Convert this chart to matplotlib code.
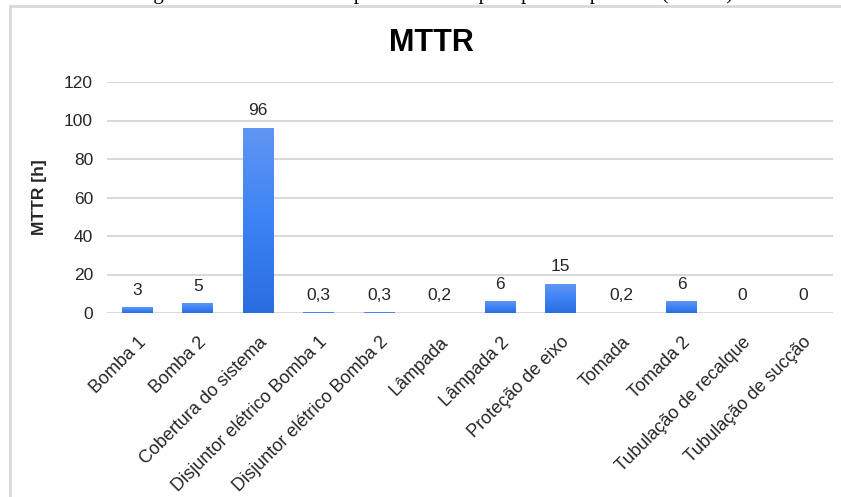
"""
MTTR bar chart per component
"""

import numpy as np
import matplotlib.pyplot as plt
from matplotlib.patches import Rectangle
from matplotlib.colors import LinearSegmentedColormap
from matplotlib.transforms import ScaledTranslation

plt.rcParams["font.family"] = ["Liberation Sans", "DejaVu Sans"]

#data
components = ["Bomba 1", "Bomba 2", "Cobertura do sistema", "Disjuntor elétrico Bomba 1",
              "Disjuntor elétrico Bomba 2", "Lâmpada", "Lâmpada 2", "Proteção de eixo",
              "Tomada", "Tomada 2", "Tubulação de recalque", "Tubulação de sucção"]
mttr = [3, 5, 96, 0.3, 0.3, 0.2, 6, 15, 0.2, 6, 0, 0]
yticks = [0, 20, 40, 60, 80, 100, 120]

caption = "Figura 9 – Gráfico do tempo médio de reparo por componente (MTTR)"


def fmt(v):
    #decimal comma like the spreadsheet
    if float(v).is_integer():
        return "%d" % v
    return ("%g" % v).replace(".", ",")


def plot_mttr():
    fig = plt.figure(figsize=(8.41, 4.97), dpi=100)
    ax = fig.add_axes([107/841, 1 - 313/497, 726/841, 231/497])

    #outer chart frame (right and bottom edges fall outside the image)
    fig.patches.append(Rectangle((10/841, -0.1), 1.2, 1.1 - 6/497, transform=fig.transFigure,
                                 fill=False, edgecolor="#d9d9d9", linewidth=2, clip_on=False))
    #caption of the page, only its lower edge is inside the image
    fig.text(136/841, 1 + 0.5/497, caption, family="Liberation Serif", fontsize=15,
             ha="left", va="baseline", color="black")

    r = np.arange(len(components))
    bars = ax.bar(r, mttr, width=0.51, color="#3b7ff0", zorder=3)

    #vertical gradient on each bar
    cmap = LinearSegmentedColormap.from_list("blue_grad", ["#2a6de0", "#3d83f5", "#6195f2"])
    grad = np.linspace(0, 1, 256).reshape(-1, 1)
    for b in bars:
        h = b.get_height()
        if h <= 0:
            continue
        x0 = b.get_x()
        im = ax.imshow(grad, cmap=cmap, origin="lower", aspect="auto",
                       extent=(x0, x0 + b.get_width(), 0, h), zorder=4)
        im.set_clip_path(b)
        b.set_facecolor("none")

    #value labels
    for i, v in enumerate(mttr):
        ax.annotate(fmt(v), (r[i], v), xytext=(0, 7), textcoords="offset points",
                    ha="center", va="bottom", fontsize=12.5, color="#262626")

    ax.set_xlim(-0.5, len(components) - 0.5)
    ax.set_ylim(0, 120)
    ax.set_yticks(yticks)
    ax.set_xticks(r)
    ax.set_xticklabels(components, rotation=45, ha="right", rotation_mode="anchor",
                       fontsize=13, color="#262626")
    shift = ScaledTranslation(-3/100, 0, fig.dpi_scale_trans)
    for lab in ax.get_xticklabels():
        lab.set_transform(lab.get_transform() + shift)
    ax.tick_params(axis="y", length=0, pad=10, labelsize=12.5, labelcolor="#262626")
    ax.tick_params(axis="x", length=0, pad=15)
    ax.grid(axis="y", color="#d9d9d9", linewidth=1.5, zorder=0)
    ax.set_axisbelow(True)
    for s in ax.spines.values():
        s.set_visible(False)

    ax.set_ylabel("MTTR [h]", fontsize=12.5, fontweight="bold", color="#262626")
    ax.yaxis.set_label_coords(-0.083, 0.5)

    fig.text(431/841, 1 - 43/497, "MTTR", fontsize=22, fontweight="bold",
             ha="center", va="center", color="black")

    plt.savefig("out.png", dpi=100)


plot_mttr()
